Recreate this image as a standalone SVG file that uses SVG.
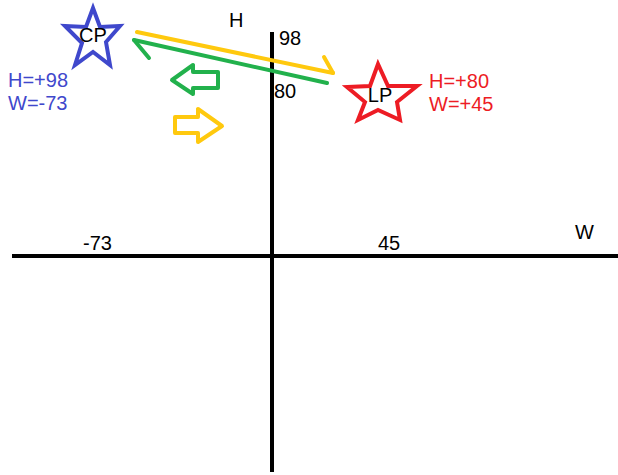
<svg xmlns="http://www.w3.org/2000/svg" width="618" height="475" viewBox="0 0 618 475">
<style>
text{font-family:"Liberation Sans",Arial,sans-serif;font-size:20px;fill:#000}
.ax{stroke:#000;stroke-width:4;fill:none}
.blue{fill:#3F48CC}
.red{fill:#ED1C24}
.y{stroke:#FFC90E;stroke-width:4;fill:none;stroke-linecap:round;stroke-linejoin:round}
.g{stroke:#22B14C;stroke-width:4;fill:none;stroke-linecap:round;stroke-linejoin:round}
</style>
<rect width="618" height="475" fill="#fff"/>
<g id="axes">
<line class="ax" x1="12" y1="256" x2="618" y2="256"/>
<line class="ax" x1="272" y1="32" x2="272" y2="472"/>
<text x="229" y="27">H</text>
<text x="575" y="239">W</text>
<text x="279" y="45">98</text>
<text x="274" y="98">80</text>
<text x="83" y="250">-73</text>
<text x="378" y="250">45</text>
</g>
<g id="CP">
<polygon points="93,8 100,27 120,26 106,42 110,65 93,52 75,65 82,43 65,26 86,27" fill="none" stroke="#3F48CC" stroke-width="4" stroke-linejoin="miter"/>
<text x="93" y="42" text-anchor="middle">CP</text>
<text class="blue" x="8" y="87">H=+98</text>
<text class="blue" x="8" y="110">W=-73</text>
</g>
<g id="LP">
<polygon points="378,64 388,86 417,86 397,102 400,120 378,110 358,120 365,102 347,87 370,86" fill="none" stroke="#ED1C24" stroke-width="4" stroke-linejoin="miter"/>
<text x="380" y="102" text-anchor="middle">LP</text>
<text class="red" x="429" y="88">H=+80</text>
<text class="red" x="429" y="111">W=+45</text>
</g>
<g id="connectors">
<polyline class="y" points="137,32 333,73"/>
<polyline class="y" points="324,57 333,73"/>
<polyline class="g" points="327,83 134,40"/>
<polyline class="g" points="134,40 149,58"/>
<polygon class="g" points="172,80 193,65 193,72 218,72 218,88 193,88 193,94" stroke-width="3.5"/>
<polygon class="y" points="222,126 198,109 198,117 175,117 175,133 198,133 198,142" stroke-width="3.5"/>
</g>
</svg>
